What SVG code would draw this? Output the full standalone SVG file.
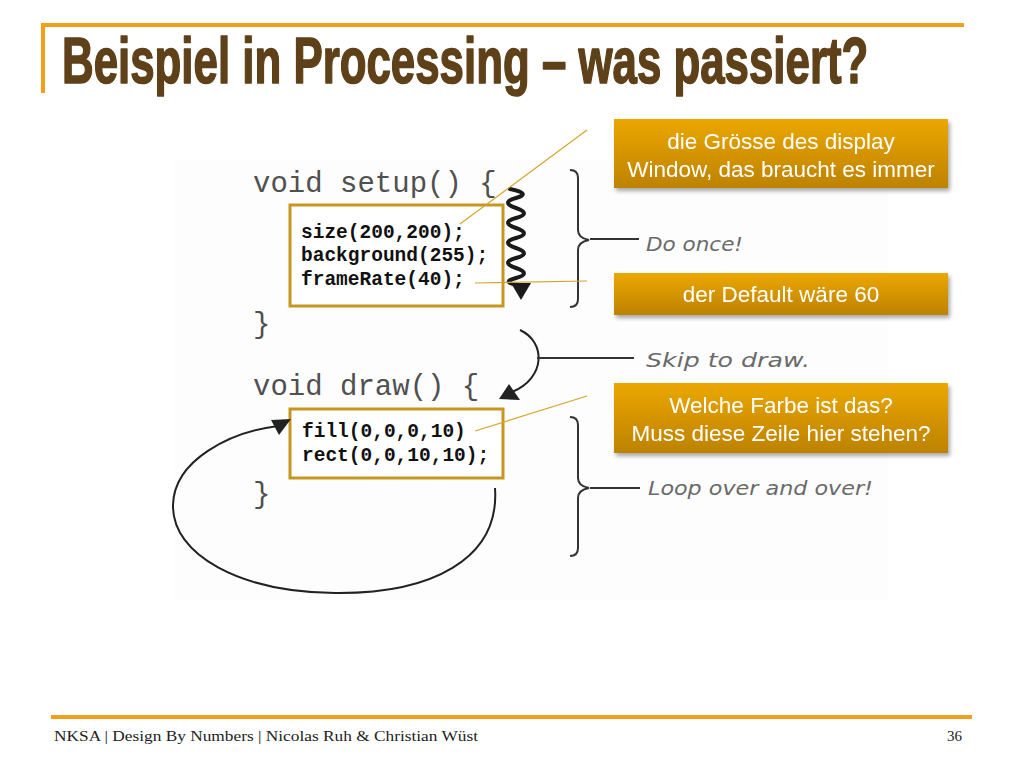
<svg xmlns="http://www.w3.org/2000/svg" width="1024" height="768" viewBox="0 0 1024 768">
<style>
.title{font-family:"Liberation Sans",Arial,sans-serif;font-weight:bold;font-size:64px;fill:#5E4019;stroke:#5E4019;stroke-width:1.6;stroke-linejoin:round}
.code{font-family:"Liberation Mono","Courier New",monospace;font-size:29px;fill:#505050}
.bcode{font-family:"Liberation Mono","Courier New",monospace;font-weight:bold;font-size:19.5px;fill:#111}
.hand{font-family:"DejaVu Sans","Liberation Sans",sans-serif;font-style:italic;font-size:19px;fill:#6a6a6a}
.call{font-family:"Liberation Sans",Arial,sans-serif;font-size:22.5px;fill:#ffffff;text-anchor:middle}
.foot{font-family:"Liberation Serif","Times New Roman",serif;font-size:15px;fill:#222}
.cbox{fill:#ffffff;stroke:#C8961E;stroke-width:3}
.lead{stroke:#D4A52A;stroke-width:1.2;fill:none}
.ink{stroke:#333;stroke-width:2;fill:none}
.blk{stroke:#222;stroke-width:2;fill:none}
.wave{stroke:#1a1a1a;stroke-width:4;fill:none;stroke-linecap:round}
.orange{fill:url(#og)}
</style>
<defs>
<linearGradient id="og" x1="0" y1="0" x2="0" y2="1">
<stop offset="0" stop-color="#EBA700"/>
<stop offset="1" stop-color="#BD8200"/>
</linearGradient>
<filter id="sh" x="-10%" y="-20%" width="130%" height="160%">
<feGaussianBlur in="SourceAlpha" stdDeviation="2"/>
<feOffset dx="2" dy="3" result="b"/>
<feComponentTransfer><feFuncA type="linear" slope="0.35"/></feComponentTransfer>
<feMerge><feMergeNode/><feMergeNode in="SourceGraphic"/></feMerge>
</filter>
</defs>
<rect width="1024" height="768" fill="#ffffff"/>
<!-- header -->
<rect x="42" y="23" width="922" height="4" fill="#F2A01A"/>
<rect x="41" y="23" width="4" height="70" fill="#F2A01A"/>
<text class="title" transform="translate(62,83) scale(0.685,1)" x="0" y="0">Beispiel in Processing – was passiert?</text>
<!-- image background -->
<rect x="175" y="160" width="713" height="440" fill="#fdfdfd"/>
<!-- code text -->
<g id="code">
<text class="code" x="253" y="192">void setup() {</text>
<text class="code" x="253" y="333">}</text>
<text class="code" x="253" y="395">void draw() {</text>
<text class="code" x="253" y="503">}</text>
</g>
<!-- code boxes -->
<g id="setupBox">
<rect class="cbox" x="290" y="205" width="213" height="101"/>
<text class="bcode" x="301" y="238">size(200,200);</text>
<text class="bcode" x="301" y="261">background(255);</text>
<text class="bcode" x="301" y="285">frameRate(40);</text>
</g>
<g id="drawBox">
<rect class="cbox" x="290" y="409" width="213" height="69"/>
<text class="bcode" x="302" y="437">fill(0,0,0,10)</text>
<text class="bcode" x="302" y="461">rect(0,0,10,10);</text>
</g>
<!-- connectors -->
<g id="connectors">
<path class="wave" d="M510,189 Q532,193.5 516,198 T516,208 T516,218 T516,228 T516,238 T516,248 T516,258 T516,268 T516,278 T519,285"/>
<polygon points="511,283 531,283 521,300" fill="#1a1a1a"/>
<path class="ink" d="M570,170 Q578,170 578,178 L578,230 Q578,238 589,240 Q578,242 578,250 L578,299 Q578,307 570,307"/>
<line class="ink" x1="590" y1="239" x2="639" y2="239"/>
<path class="ink" d="M570,417 Q578,417 578,425 L578,478 Q578,486 589,488 Q578,490 578,498 L578,548 Q578,556 570,556"/>
<line class="ink" x1="590" y1="488" x2="640" y2="488"/>
<path class="blk" d="M520,330 C546,342 546,378 512,392"/>
<polygon points="499,399 509,384 520,400" fill="#222"/>
<line class="ink" x1="537" y1="358" x2="634" y2="358"/>
<path class="blk" d="M495,488 C500,560 430,594 335,593 C240,592 172,555 173,505 C174,460 230,432 278,426"/>
<polygon points="291,419 271,420 279,435" fill="#222"/>
<line class="lead" x1="460" y1="224" x2="587" y2="130"/>
<line class="lead" x1="475" y1="283" x2="587" y2="281"/>
<line class="lead" x1="475" y1="431" x2="587" y2="396"/>
</g>
<!-- handwritten labels -->
<g id="labels">
<text class="hand" x="646" y="251" textLength="97" lengthAdjust="spacingAndGlyphs">Do once!</text>
<text class="hand" x="646" y="367" textLength="164" lengthAdjust="spacingAndGlyphs">Skip to draw.</text>
<text class="hand" x="648" y="495" textLength="225" lengthAdjust="spacingAndGlyphs">Loop over and over!</text>
</g>
<!-- callouts -->
<g id="callout1" filter="url(#sh)">
<rect class="orange" x="614" y="119" width="334" height="69"/>
<text class="call" x="781" y="149">die Grösse des display</text>
<text class="call" x="781" y="177">Window, das braucht es immer</text>
</g>
<g id="callout2" filter="url(#sh)">
<rect class="orange" x="614" y="273" width="334" height="42"/>
<text class="call" x="781" y="302">der Default wäre 60</text>
</g>
<g id="callout3" filter="url(#sh)">
<rect class="orange" x="614" y="383" width="334" height="70"/>
<text class="call" x="781" y="413">Welche Farbe ist das?</text>
<text class="call" x="781" y="441">Muss diese Zeile hier stehen?</text>
</g>
<!-- footer -->
<rect x="51" y="715" width="921" height="4" fill="#F2A01A"/>
<text class="foot" x="54" y="741" textLength="424" lengthAdjust="spacingAndGlyphs">NKSA | Design By Numbers | Nicolas Ruh &amp; Christian Wüst</text>
<text class="foot" x="962" y="741" text-anchor="end">36</text>
</svg>
